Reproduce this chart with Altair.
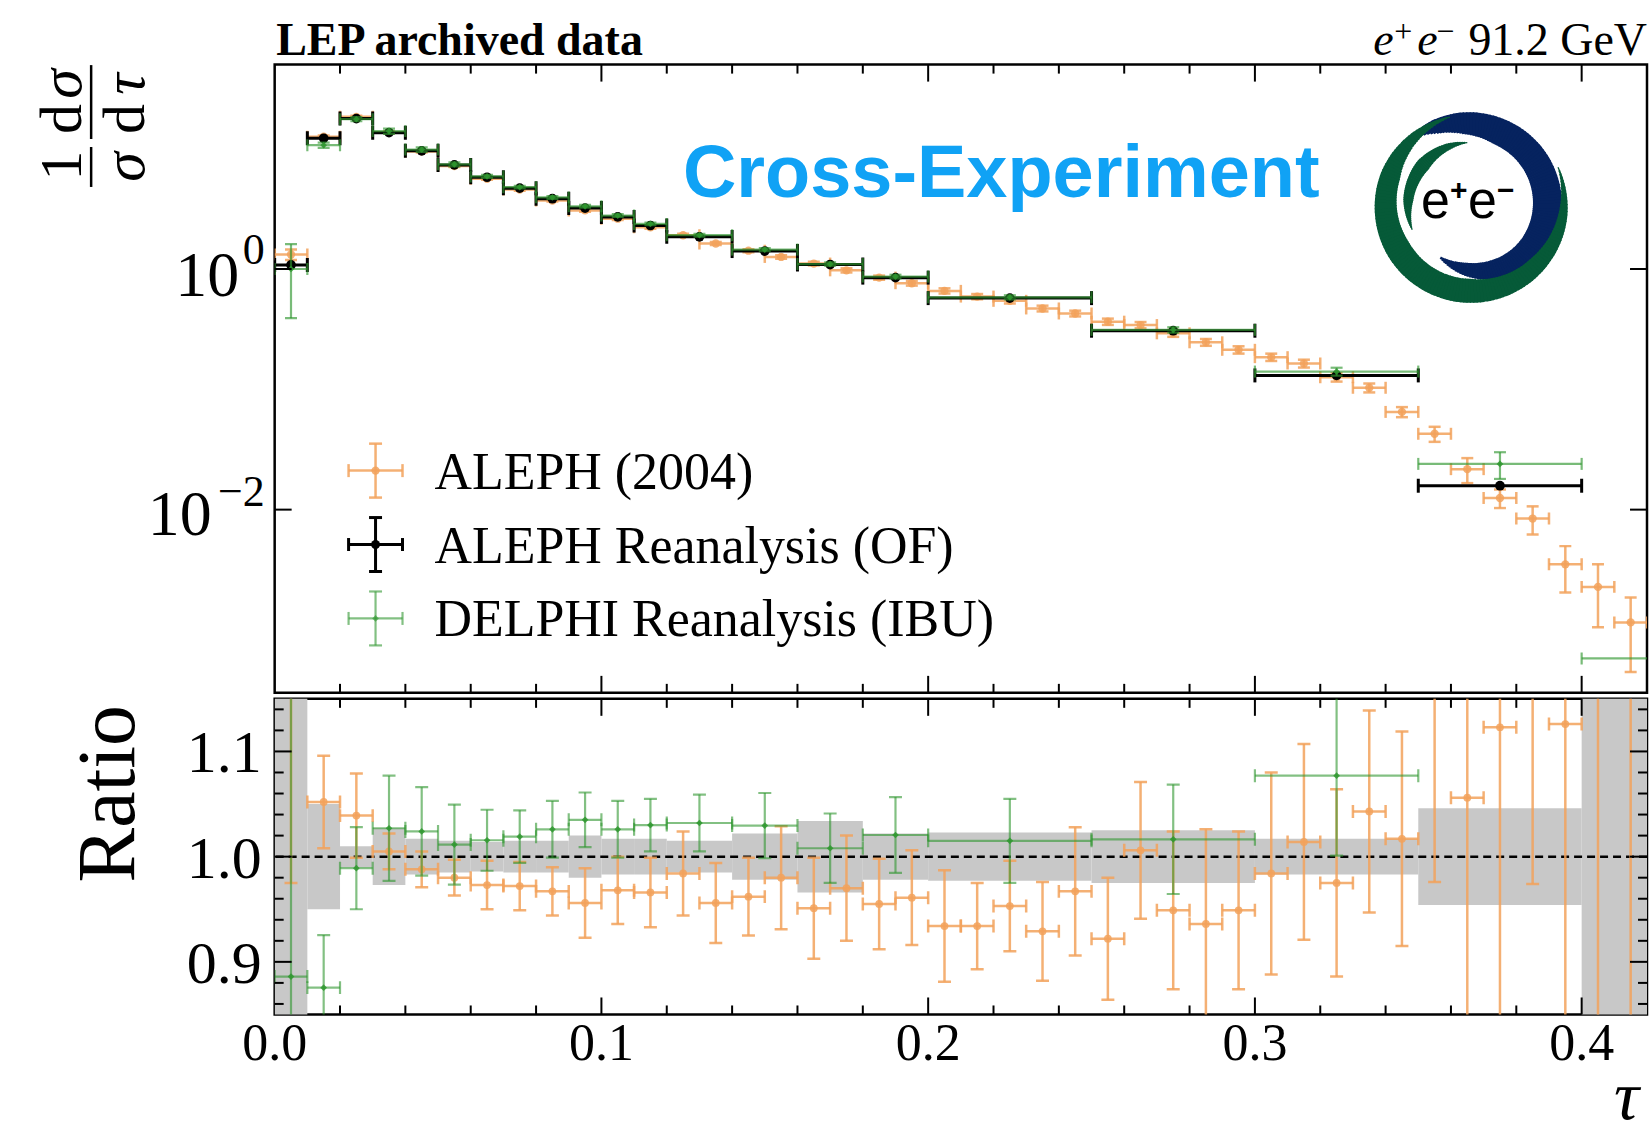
import math
import altair as alt
import pandas as pd

# ------------------------------------------------------------------
# 1/sigma dsigma/dtau at the Z pole: ALEPH 2004 vs. archived-data
# reanalyses (ALEPH OF, DELPHI IBU) and their ratio to ALEPH OF
# ------------------------------------------------------------------
series_names = ["ALEPH (2004)", "ALEPH Reanalysis (OF)", "DELPHI Reanalysis (IBU)"]

# ALEPH (2004): 0.01-wide bins in tau
aleph_lo = [0.00, 0.01, 0.02, 0.03, 0.04, 0.05, 0.06, 0.07, 0.08, 0.09,
            0.10, 0.11, 0.12, 0.13, 0.14, 0.15, 0.16, 0.17, 0.18, 0.19,
            0.20, 0.21, 0.22, 0.23, 0.24, 0.25, 0.26, 0.27, 0.28, 0.29,
            0.30, 0.31, 0.32, 0.33, 0.34, 0.35, 0.36, 0.37, 0.38, 0.39,
            0.40, 0.41]
aleph_hi = [0.01, 0.02, 0.03, 0.04, 0.05, 0.06, 0.07, 0.08, 0.09, 0.10,
            0.11, 0.12, 0.13, 0.14, 0.15, 0.16, 0.17, 0.18, 0.19, 0.20,
            0.21, 0.22, 0.23, 0.24, 0.25, 0.26, 0.27, 0.28, 0.29, 0.30,
            0.31, 0.32, 0.33, 0.34, 0.35, 0.36, 0.37, 0.38, 0.39, 0.40,
            0.41, 0.42]
aleph_val = [1.32, 12.6, 18.4, 13.7, 9.5, 7.18, 5.63, 4.57, 3.71, 3.07,
             2.62, 2.22, 1.91, 1.63, 1.42, 1.26, 1.11, 0.975, 0.848, 0.762,
             0.658, 0.590, 0.544, 0.470, 0.427, 0.365, 0.342, 0.292, 0.246, 0.213,
             0.185, 0.164, 0.126, 0.103, 0.0649, 0.0427, 0.0217, 0.0125, 0.00843, 0.00351,
             0.00228, 0.001155]
aleph_relerr = [0.10, 0.02, 0.02, 0.02, 0.02, 0.02, 0.02, 0.02, 0.02, 0.025,
                0.025, 0.025, 0.03, 0.03, 0.03, 0.035, 0.035, 0.04, 0.04, 0.045,
                0.05, 0.05, 0.05, 0.055, 0.055, 0.06, 0.06, 0.065, 0.065, 0.07,
                0.07, 0.075, 0.08, 0.085, 0.096, 0.143, 0.235, 0.176, 0.263, 0.417,
                0.539, 0.613]
aleph_ratio = [1.22, 1.052, 1.039, 1.005, 0.988, 0.980, 0.973, 0.972, 0.967, 0.956,
               0.968, 0.966, 0.984, 0.956, 0.962, 0.980, 0.951, 0.970, 0.955, 0.961,
               0.934, 0.934, 0.953, 0.929, 0.967, 0.922, 1.006, 0.949, 0.936, 0.949,
               0.984, 1.014, 0.975, 1.043, 1.017, 1.20, 1.056, 1.123, 1.25, 1.126,
               1.50, 1.80]
aleph_ratio_err = [0.245, 0.044, 0.040, 0.017, 0.017, 0.017, 0.023, 0.023, 0.023, 0.033,
                   0.032, 0.033, 0.040, 0.038, 0.037, 0.049, 0.048, 0.050, 0.043, 0.045,
                   0.053, 0.041, 0.043, 0.047, 0.061, 0.058, 0.065, 0.075, 0.090, 0.075,
                   0.096, 0.093, 0.089, 0.096, 0.102, 0.224, 0.26, 0.32, 0.276, 0.35,
                   0.80, 1.0]

# Reanalysis binning (shared by ALEPH OF and DELPHI IBU)
ref_lo = [0.00, 0.01, 0.02, 0.03, 0.04, 0.05, 0.06, 0.07, 0.08, 0.09, 0.10,
          0.11, 0.12, 0.14, 0.16, 0.18, 0.20, 0.25, 0.30, 0.35, 0.40]
ref_hi = [0.01, 0.02, 0.03, 0.04, 0.05, 0.06, 0.07, 0.08, 0.09, 0.10, 0.11,
          0.12, 0.14, 0.16, 0.18, 0.20, 0.25, 0.30, 0.35, 0.40, 0.45]
# ALEPH reanalysis (OF); no visible value in the last bin
ref_val = [1.08, 12.2, 17.8, 13.6, 9.6, 7.33, 5.79, 4.70, 3.84, 3.21, 2.71,
           2.30, 1.85, 1.41, 1.09, 0.848, 0.573, 0.307, 0.1305, 0.0158, None]
# relative uncertainty of the reference (grey band in the ratio)
ref_band = [0.60, 0.050, 0.010, 0.027, 0.017, 0.015, 0.014, 0.015, 0.015, 0.020, 0.017,
            0.017, 0.015, 0.022, 0.034, 0.022, 0.023, 0.025, 0.017, 0.046, 1.0]

# DELPHI reanalysis (IBU)
delphi_val = [1.0, 10.7, 17.6, 14.0, 9.83, 7.41, 5.88, 4.79, 3.94, 3.32, 2.78,
              2.37, 1.91, 1.45, 1.10, 0.865, 0.582, 0.312, 0.1405, 0.0240, 0.00058]
delphi_relerr = [0.61, 0.05, 0.039, 0.05, 0.042, 0.038, 0.029, 0.025, 0.027, 0.026, 0.027,
                 0.025, 0.027, 0.031, 0.033, 0.036, 0.04, 0.052, 0.076, 0.25, 0.3]
delphi_ratio = [0.886, 0.8755, 0.989, 1.027, 1.024, 1.0115, 1.0156, 1.019, 1.026, 1.035, 1.026,
                1.030, 1.032, 1.0295, 1.008, 1.0206, 1.015, 1.0165, 1.077, 1.52, 3.0]
delphi_ratio_err = [0.55, 0.05, 0.039, 0.05, 0.042, 0.038, 0.029, 0.025, 0.027, 0.026, 0.027,
                    0.025, 0.027, 0.031, 0.033, 0.036, 0.04, 0.052, 0.076, 0.30, 1.0]

# axis ticks and tick labels
x_major = [0.1, 0.2, 0.3, 0.4]
x_minor = [0.02, 0.04, 0.06, 0.08, 0.12, 0.14, 0.16, 0.18,
           0.22, 0.24, 0.26, 0.28, 0.32, 0.34, 0.36, 0.38]
x_labels = [0.0, 0.1, 0.2, 0.3, 0.4]
upper_major = [1.0, 0.01]
ratio_major = [0.9, 1.0, 1.1]
ratio_minor = [0.86, 0.88, 0.92, 0.94, 0.96, 0.98, 1.02, 1.04, 1.06, 1.08, 1.12, 1.14]

# ------------------------------------------------------------------
# tables
# ------------------------------------------------------------------
aleph = pd.DataFrame({"lo": aleph_lo, "hi": aleph_hi, "val": aleph_val,
                      "rel": aleph_relerr, "ratio": aleph_ratio, "rerr": aleph_ratio_err})
aleph["x"] = (aleph["lo"] + aleph["hi"]) / 2
aleph["ylo"] = aleph["val"] * (1 - aleph["rel"])
aleph["yhi"] = aleph["val"] * (1 + aleph["rel"])
aleph["rlo"] = aleph["ratio"] - aleph["rerr"]
aleph["rhi"] = aleph["ratio"] + aleph["rerr"]

ref = pd.DataFrame({"lo": ref_lo, "hi": ref_hi, "val": ref_val, "band": ref_band})
ref["x"] = (ref["lo"] + ref["hi"]) / 2
ref["blo"] = 1 - ref["band"]
ref["bhi"] = 1 + ref["band"]
ref_pts = ref.dropna(subset=["val"]).copy()

delphi = pd.DataFrame({"lo": ref_lo, "hi": ref_hi, "val": delphi_val, "rel": delphi_relerr,
                       "ratio": delphi_ratio, "rerr": delphi_ratio_err})
delphi["x"] = (delphi["lo"] + delphi["hi"]) / 2
delphi["ylo"] = delphi["val"] * (1 - delphi["rel"])
delphi["yhi"] = delphi["val"] * (1 + delphi["rel"])
delphi["rlo"] = delphi["ratio"] - delphi["rerr"]
delphi["rhi"] = delphi["ratio"] + delphi["rerr"]

ONE = pd.DataFrame({"k": [0]})

# ------------------------------------------------------------------
# style
# ------------------------------------------------------------------
W, H_TOP, H_BOT = 1374, 629, 316
SERIF, SANS = "Liberation Serif", "Liberation Sans"
ORANGE, BLACK, GREEN = "#f2a25c", "#000000", "#2f962f"
NAVY, LOGO_GREEN = "#06235f", "#065a38"
MAJ, MIN = 17, 9

X_SCALE = alt.Scale(domain=[0, 0.42], nice=False, zero=False)
Y_TOP = alt.Scale(type="log", domain=[3e-4, 50], nice=False)
Y_BOT = alt.Scale(domain=[0.85, 1.15], nice=False, zero=False)


def xenc(field):
    return alt.X(f"{field}:Q", scale=X_SCALE, axis=None, title=None)


def yenc(field, scale):
    return alt.Y(f"{field}:Q", scale=scale, axis=None, title=None)


def errorbars(df, yscale, y, ylo, yhi, color, opacity, lw, cap, msize, shape,
              marker_opacity=None, vertical=True):
    base = alt.Chart(df)
    mo = opacity if marker_opacity is None else marker_opacity
    layers = [
        base.mark_rule(color=color, opacity=opacity, strokeWidth=lw, clip=True).encode(
            x=xenc("lo"), x2=alt.X2("hi"), y=yenc(y, yscale)),
        base.transform_fold(["lo", "hi"], as_=["edge", "xe"]).mark_tick(
            orient="vertical", color=color, opacity=opacity, size=cap, thickness=lw,
            clip=True).encode(x=xenc("xe"), y=yenc(y, yscale)),
    ]
    if vertical:
        layers += [
            base.mark_rule(color=color, opacity=opacity, strokeWidth=lw, clip=True).encode(
                x=xenc("x"), y=yenc(ylo, yscale), y2=alt.Y2(yhi)),
            base.transform_fold([ylo, yhi], as_=["edge", "ye"]).mark_tick(
                orient="horizontal", color=color, opacity=opacity, size=cap, thickness=lw,
                clip=True).encode(x=xenc("x"), y=yenc("ye", yscale)),
        ]
    layers.append(
        base.mark_point(filled=True, shape=shape, size=msize, color=color, opacity=mo,
                        clip=True).encode(x=xenc("x"), y=yenc(y, yscale)))
    return layers


def x_ticks(values, length, height):
    b = alt.Chart(pd.DataFrame({"v": values})).mark_rule(color="black", strokeWidth=2)
    return [b.encode(x=xenc("v"), y=alt.value(height), y2=alt.value(height - length)),
            b.encode(x=xenc("v"), y=alt.value(0), y2=alt.value(length))]


def y_ticks(values, length, yscale):
    b = alt.Chart(pd.DataFrame({"v": values})).mark_rule(color="black", strokeWidth=2)
    return [b.encode(y=yenc("v", yscale), x=alt.value(0), x2=alt.value(length)),
            b.encode(y=yenc("v", yscale), x=alt.value(W), x2=alt.value(W - length))]


def label(t, x, y, size, font=SERIF, **kw):
    return alt.Chart(ONE).mark_text(text=t, font=font, fontSize=size, **kw).encode(
        x=alt.value(x), y=alt.value(y))


def seg(x1, y1, x2, y2, color, width, opacity=1.0):
    return alt.Chart(ONE).mark_rule(color=color, strokeWidth=width, opacity=opacity).encode(
        x=alt.value(x1), y=alt.value(y1), x2=alt.value(x2), y2=alt.value(y2))


def swirl(cx, cy, keys, color, step=2.0):
    """Tapered ring: radii are blended between key angles (degrees, clockwise from 12)."""
    rows = []
    for (a0, i0, o0), (a1, i1, o1) in zip(keys[:-1], keys[1:]):
        n = max(1, int(round((a1 - a0) / step)))
        for j in range(n):
            f0, f1 = j / n, (j + 1) / n
            fm = (f0 + f1) / 2
            rows.append({
                "t0": math.radians(a0 + (a1 - a0) * f0),
                "t1": math.radians(a0 + (a1 - a0) * f1) + 0.012,
                "ri": i0 + (i1 - i0) * fm,
                "ro": o0 + (o1 - o0) * fm,
            })
    return alt.Chart(pd.DataFrame(rows)).mark_arc(color=color).encode(
        theta=alt.Theta("t0:Q", scale=None, stack=None),
        theta2=alt.Theta2("t1"),
        radius=alt.Radius("ro:Q", scale=None),
        radius2=alt.Radius2("ri"),
        x=alt.value(cx), y=alt.value(cy))


def legend_row(cx, cy, text, color, opacity, lw, shape, msize):
    half, cap = 27, 13
    return [
        seg(cx - half, cy, cx + half, cy, color, lw, opacity),
        seg(cx, cy - half, cx, cy + half, color, lw, opacity),
        seg(cx - half, cy - cap / 2, cx - half, cy + cap / 2, color, lw, opacity),
        seg(cx + half, cy - cap / 2, cx + half, cy + cap / 2, color, lw, opacity),
        seg(cx - cap / 2, cy - half, cx + cap / 2, cy - half, color, lw, opacity),
        seg(cx - cap / 2, cy + half, cx + cap / 2, cy + half, color, lw, opacity),
        alt.Chart(ONE).mark_point(filled=True, shape=shape, size=msize, color=color,
                                  opacity=opacity).encode(x=alt.value(cx), y=alt.value(cy)),
        label(text, 160, cy + 18, 52, align="left", baseline="alphabetic"),
    ]


# ------------------------------------------------------------------
# upper panel: spectra
# ------------------------------------------------------------------
upper = []
# keeps the page origin fixed relative to the frame
upper.append(seg(-273, -62, -272, -62, "white", 1))

upper += errorbars(aleph, Y_TOP, "val", "ylo", "yhi", ORANGE, 0.85, 2.5, 12, 70, "circle")
upper += errorbars(ref_pts, Y_TOP, "val", "val", "val", BLACK, 1.0, 3, 14, 95, "circle",
                   vertical=False)
upper += errorbars(delphi, Y_TOP, "val", "ylo", "yhi", GREEN, 0.65, 2.2, 12, 45, "diamond",
                   marker_opacity=0.85)

upper += x_ticks(x_major, MAJ, H_TOP) + x_ticks(x_minor, MIN, H_TOP)
upper += y_ticks(upper_major, MAJ, Y_TOP)

# log-axis labels 10^0 and 10^-2
for val, base_x, exp, base_dy, exp_dy in [(1.0, -35.5, "0", 27, -5),
                                          (0.01, -63, "\u22122", 25, -4)]:
    d = alt.Chart(pd.DataFrame({"v": [val]}))
    upper.append(d.mark_text(text="10", font=SERIF, fontSize=64, align="right",
                             baseline="alphabetic", dy=base_dy).encode(
        x=alt.value(base_x), y=yenc("v", Y_TOP)))
    upper.append(d.mark_text(text=exp, font=SERIF, fontSize=44, align="right",
                             baseline="alphabetic", dy=exp_dy).encode(
        x=alt.value(-10), y=yenc("v", Y_TOP)))

# y title: (1/sigma) dsigma/dtau, rotated
rot = dict(angle=270, align="center", baseline="alphabetic")
upper += [
    label("1", -194.25, 101, 60, **rot),
    label("d", -194.25, 54.5, 60, **rot),
    label("\u03c3", -194.25, 19.5, 60, fontStyle="italic", **rot),
    label("\u03c3", -131.25, 102.5, 60, fontStyle="italic", **rot),
    label("d", -131.25, 54.5, 60, **rot),
    label("\u03c4", -131.25, 19.5, 60, fontStyle="italic", **rot),
    seg(-183.75, 82.5, -183.75, 122.5, "black", 2.5),
    seg(-183.75, 0.5, -183.75, 74.5, "black", 2.5),
]

# header texts
upper += [
    label("LEP archived data", 1.5, -9.5, 46, fontWeight="bold", align="left",
          baseline="alphabetic"),
    label("e", 1100, -9.5, 46, fontStyle="italic", align="left", baseline="alphabetic"),
    label("+", 1121, -22.5, 32, align="left", baseline="alphabetic"),
    label("e", 1144, -9.5, 46, fontStyle="italic", align="left", baseline="alphabetic"),
    label("\u2212", 1163, -22.5, 32, align="left", baseline="alphabetic"),
    label("91.2 GeV", W, -9.5, 46, align="right", baseline="alphabetic"),
    label("Cross-Experiment", 408.75, 132.2, 74, font=SANS, fontWeight="bold",
          color="#10a2f5", align="left", baseline="alphabetic"),
]

# e+e- badge: navy swirl over the top/right, green swirl round the left/bottom
cx, cy = 1197.75, 141.5
upper.append(swirl(cx, cy, [
    (318, 90, 92), (335, 80, 94), (355, 72, 94), (380, 66, 93), (450, 62, 91),
    (490, 60, 86), (520, 58, 78), (545, 57, 70), (570, 59, 61),
], NAVY))
upper.append(swirl(cx, cy, [
    (66, 95, 96), (95, 88, 97), (130, 80, 97), (180, 73, 97), (240, 72, 97),
    (290, 76, 96), (320, 84, 94), (346, 91, 92),
], LOGO_GREEN))
upper.append(swirl(cx, cy, [
    (248, 63, 64), (275, 58, 68), (310, 56, 70), (338, 60, 67), (356, 63, 64),
], LOGO_GREEN))
upper += [
    label("e", cx - 50, cy + 12, 52, font=SANS, align="left", baseline="alphabetic"),
    label("+", cx - 21, cy - 6, 30, font=SANS, fontWeight="bold", align="left",
          baseline="alphabetic"),
    label("e", cx - 3, cy + 12, 52, font=SANS, align="left", baseline="alphabetic"),
    label("\u2212", cx + 26, cy - 6, 30, font=SANS, fontWeight="bold", align="left",
          baseline="alphabetic"),
]

# legend
legend_y = [406.5, 480.5, 554.5]
upper += legend_row(101, legend_y[0], series_names[0], ORANGE, 0.85, 2.5, "circle", 70)
upper += legend_row(101, legend_y[1], series_names[1], BLACK, 1.0, 3, "circle", 80)
upper += legend_row(101, legend_y[2], series_names[2], GREEN, 0.6, 2.2, "diamond", 45)

top = alt.layer(*upper).properties(width=W, height=H_TOP)

# ------------------------------------------------------------------
# lower panel: ratio to ALEPH reanalysis (OF)
# ------------------------------------------------------------------
lower = [
    alt.Chart(ref).mark_rect(color="#c8c8c8", clip=True).encode(
        x=xenc("lo"), x2=alt.X2("hi"), y=yenc("blo", Y_BOT), y2=alt.Y2("bhi")),
    alt.Chart(pd.DataFrame({"v": [1.0]})).mark_rule(
        color="black", strokeWidth=2.5, strokeDash=[8, 5]).encode(y=yenc("v", Y_BOT)),
]
lower += errorbars(aleph, Y_BOT, "ratio", "rlo", "rhi", ORANGE, 0.85, 2.5, 13, 60, "circle")
lower += errorbars(delphi, Y_BOT, "ratio", "rlo", "rhi", GREEN, 0.6, 2.2, 13, 45, "diamond",
                   marker_opacity=0.85)
lower += x_ticks(x_major, MAJ, H_BOT) + x_ticks(x_minor, MIN, H_BOT)
lower += y_ticks(ratio_major, MAJ, Y_BOT) + y_ticks(ratio_minor, MIN, Y_BOT)

# tick labels
lower.append(alt.Chart(pd.DataFrame({"v": x_labels})).mark_text(
    font=SERIF, fontSize=52, align="center", baseline="alphabetic", color="black").encode(
    x=xenc("v"), y=alt.value(H_BOT + 362 - 316), text=alt.Text("v:Q", format=".1f")))
lower.append(alt.Chart(pd.DataFrame({"v": ratio_major})).mark_text(
    font=SERIF, fontSize=60, align="right", baseline="alphabetic", dy=21,
    color="black").encode(
    x=alt.value(-13), y=yenc("v", Y_BOT), text=alt.Text("v:Q", format=".1f")))

lower += [
    label("Ratio", -141.25, 95, 82, angle=270, align="center", baseline="alphabetic"),
    label("\u03c4", W - 8, 436, 70, fontStyle="italic", align="right", baseline="bottom"),
]

bottom = alt.layer(*lower).properties(width=W, height=H_BOT)

chart = alt.vconcat(top, bottom, spacing=0).properties(
    padding=0, background="white"
).configure_view(stroke="black", strokeWidth=2.5)

chart.save("out.html", embed_options={"renderer": "svg", "actions": False})
